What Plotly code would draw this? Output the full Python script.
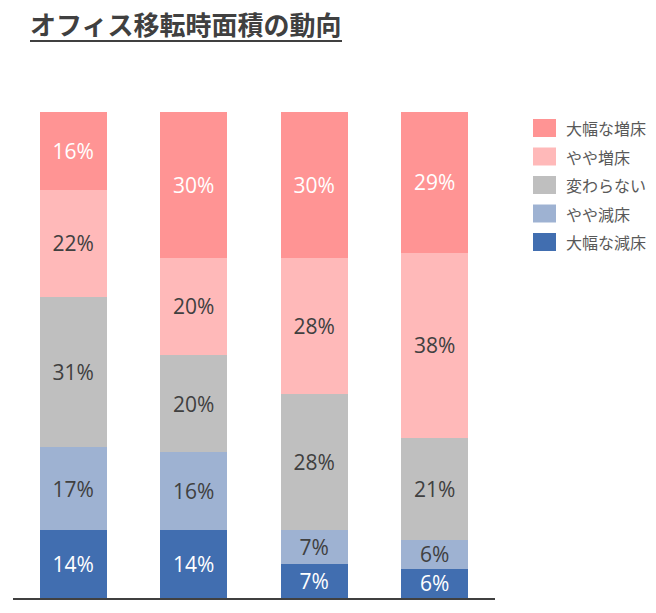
import plotly.graph_objects as go

categories = ["1", "2", "3", "4"]
series_names = ["大幅な減床", "やや減床", "変わらない", "やや増床", "大幅な増床"]
v_big_dec = [14, 14, 7, 6]
v_small_dec = [17, 16, 7, 6]
v_same = [31, 20, 28, 21]
v_small_inc = [22, 20, 28, 38]
v_big_inc = [16, 30, 30, 29]
series_values = [v_big_dec, v_small_dec, v_same, v_small_inc, v_big_inc]
colors = ["#416EB0", "#9EB2D2", "#BFBFBF", "#FFB9B9", "#FF9494"]
text_colors = ["#FFFFFF", "#404040", "#404040", "#404040", "#FFFFFF"]

fig = go.Figure()
for name, vals, c, tc in zip(series_names, series_values, colors, text_colors):
    fig.add_trace(go.Bar(
        x=categories, y=vals, name=name, marker=dict(color=c, line=dict(width=0)),
        text=[f"{v}%" for v in vals], textposition="inside", insidetextanchor="middle",
        textangle=0, constraintext="none",
        textfont=dict(color=tc, size=21, family="Open Sans, Noto Sans"),
        showlegend=False, hoverinfo="skip"))

# manual legend (reversed order)
shapes = []
annotations = []
W, H = 656, 613
x0p, x1p = 533, 556
for i, (name, c) in enumerate(zip(reversed(series_names), reversed(colors))):
    yc = 128 + i * 28.5
    shapes.append(dict(type="rect", xref="paper", yref="paper",
                       x0=(x0p - 13) / 482, x1=(x1p - 13) / 482,
                       y0=(598 - (yc + 9)) / 486, y1=(598 - (yc - 9)) / 486,
                       fillcolor=c, line=dict(width=0)))
    annotations.append(dict(text=name, xref="paper", yref="paper",
                            x=(564 - 13) / 482, y=(598 - yc) / 486,
                            xanchor="left", yanchor="middle", showarrow=False,
                            font=dict(size=16, color="#595959", family="Noto Sans CJK JP")))

# title underline
shapes.append(dict(type="line", xref="paper", yref="paper",
                   x0=(30 - 13) / 482, x1=(342 - 13) / 482,
                   y0=(598 - 41) / 486, y1=(598 - 41) / 486,
                   line=dict(color="#404040", width=2)))

fig.update_layout(
    width=W, height=H,
    margin=dict(l=13, r=161, t=112, b=15),
    paper_bgcolor="white", plot_bgcolor="white",
    barmode="stack", bargap=0.444,
    title=dict(text="<b>オフィス移転時面積の動向</b>", x=30 / W, xanchor="left",
               y=1 - 26 / H, yanchor="middle",
               font=dict(size=26, color="#404040", family="Noto Sans CJK JP")),
    xaxis=dict(showticklabels=False, ticks="", showgrid=False, showline=True,
               linecolor="#404040", linewidth=2, zeroline=False),
    yaxis=dict(range=[0, 100], visible=False, showgrid=False, zeroline=False),
    shapes=shapes, annotations=annotations,
    uniformtext=dict(mode=False),
)

fig.write_html("out.html", config={"displayModeBar": False},
               post_script="document.body.style.margin='0';")
